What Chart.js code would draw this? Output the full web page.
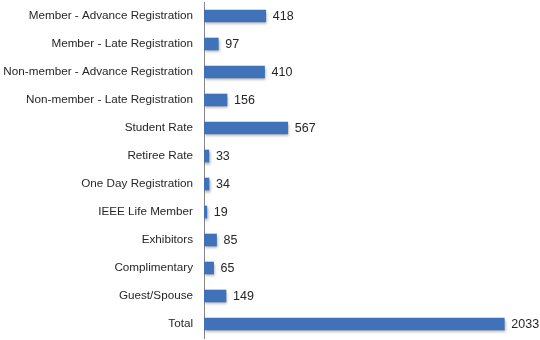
<!DOCTYPE html>
<html><head><meta charset="utf-8">
<script src="https://cdn.jsdelivr.net/npm/chart.js@4"></script>
<style>html,body{margin:0;padding:0;background:#fff}#wrap{width:540px;height:340px}</style>
</head><body><div id="wrap"><canvas id="c" width="540" height="340"></canvas></div>
<script>
const categories = ["Member - Advance Registration","Member - Late Registration","Non-member - Advance Registration","Non-member - Late Registration","Student Rate","Retiree Rate","One Day Registration","IEEE Life Member","Exhibitors","Complimentary","Guest/Spouse","Total"];
const values = [418,97,410,156,567,33,34,19,85,65,149,2033];
const xMax = 2200;

const FONT = "'Liberation Sans', Arial, sans-serif";

const valueLabels = {
  id: 'valueLabels',
  afterDatasetsDraw(chart) {
    const ctx = chart.ctx;
    const meta = chart.getDatasetMeta(0);
    ctx.save();
    ctx.shadowColor = 'transparent';
    ctx.font = "12.5px " + FONT;
    ctx.fillStyle = '#262626';
    ctx.textBaseline = 'middle';
    ctx.textAlign = 'left';
    meta.data.forEach((bar, i) => {
      ctx.fillText(String(values[i]), bar.x + 7, bar.y + 1);
    });
    ctx.restore();
  }
};

const shadowPlugin = {
  id: 'barShadow',
  beforeDatasetsDraw(chart) {
    chart.ctx.save();
    chart.ctx.shadowColor = 'rgba(0,0,0,0.35)';
    chart.ctx.shadowBlur = 3;
    chart.ctx.shadowOffsetX = 1;
    chart.ctx.shadowOffsetY = 2;
  },
  afterDatasetsDraw(chart) { chart.ctx.restore(); }
};

function barGradient(context) {
  const chart = context.chart;
  const el = context.element;
  if (!el || !chart.chartArea || !Number.isFinite(el.y)) return '#3f72b8';
  const y = el.y, h = 12;
  const g = chart.ctx.createLinearGradient(0, y - h/2, 0, y + h/2);
  g.addColorStop(0, '#5d93d6');
  g.addColorStop(0.5, '#3f72b8');
  g.addColorStop(1, '#2c5a99');
  return g;
}

new Chart(document.getElementById('c'), {
  type: 'bar',
  data: {
    labels: categories,
    datasets: [{
      data: values,
      backgroundColor: barGradient,
      borderWidth: 0,
      barThickness: 12
    }]
  },
  options: {
    indexAxis: 'y',
    responsive: false,
    animation: false,
    layout: { padding: { top: 2, bottom: 2, right: 11, left: 0 } },
    plugins: { legend: { display: false }, tooltip: { enabled: false } },
    scales: {
      x: { display: false, min: 0, max: xMax },
      y: {
        afterFit(scale) { scale.width = 204; scale.paddingTop = 0; scale.paddingBottom = 0; },
        grid: { display: false, drawTicks: false },
        border: { display: true, color: '#868686', width: 1 },
        ticks: { color: '#262626', font: { family: FONT, size: 11.7 }, padding: 11, autoSkip: false }
      }
    }
  },
  plugins: [shadowPlugin, valueLabels]
});
</script></body></html>
